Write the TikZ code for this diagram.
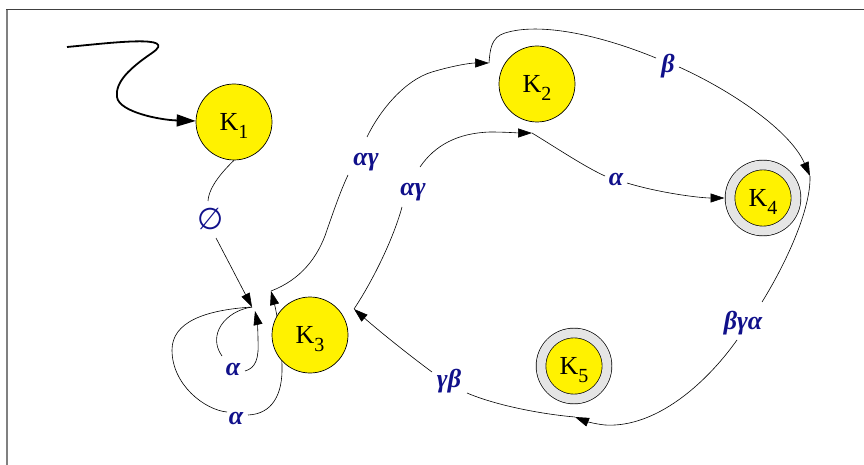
\documentclass[tikz,border=0pt]{standalone}
\usepackage{fontspec}
\setmainfont{Liberation Serif}
\newfontfamily\symfont{DejaVu Sans}
\usetikzlibrary{arrows.meta,backgrounds}
\definecolor{lblblue}{HTML}{10108A}
\newcommand\kname[1]{K\raisebox{-8pt}{\fontsize{20}{20}\selectfont #1}}
\begin{document}
\begin{tikzpicture}[x=1pt, y=1pt,
    state/.style={circle, draw, fill=yellow, line width=0.7pt, minimum size=76pt, inner sep=0pt, text depth=0pt, font=\fontsize{26}{26}\selectfont},
    final/.style={state, minimum size=66pt, double=gray!20, double distance=9pt, outer sep=5.5pt},
    edge/.style={-{Triangle[length=14pt, width=9pt]}, line width=0.6pt},
    init/.style={-{Triangle[length=19pt, width=12pt]}, line width=1.8pt},
    lbl/.style={text=lblblue, inner sep=0pt, font=\fontsize{26}{26}\selectfont\bfseries\itshape}]
    \useasboundingbox (0,0) rectangle (864,-465);
    \draw[gray, line width=1.5pt] (7,-465) -- (7,-9);
    \draw[black!75, line width=0.8pt] (6.25,-9) -- (864,-9);
    \node (k1) at (234,-122) [state] {\kname{1}};
    \node (k2) at (537,-84) [state] {\kname{2}};
    \node (k3) at (310,-335) [state] {\kname{3}};
    \node (k4) at (763,-198) [final] {\kname{4}};
    \node (k5) at (574,-366) [final] {\kname{5}};
    \coordinate (start) at (67,-47);
    \coordinate (p3a) at (252,-307);
    \coordinate (p3b) at (255,-311);
    \coordinate (p3c) at (271,-291);
    \coordinate (p3d) at (354,-309);
    \coordinate (p2a) at (489,-63);
    \coordinate (p2b) at (532,-133);
    \coordinate (p4a) at (810,-176);
    \coordinate (p5a) at (575,-417);
    \node (l1) at (211,-219) [lbl, font=\symfont\fontsize{30}{30}\selectfont] {∅};
    \node (l2) at (366,-162) [lbl] {αγ};
    \node (l3) at (413,-192) [lbl] {αγ};
    \node (l4) at (668,-66) [lbl] {β};
    \node (l5) at (616,-180) [lbl] {α};
    \node (l6) at (743,-323) [lbl] {βγα};
    \node (l7) at (449,-381) [lbl] {γβ};
    \node (l8) at (233,-369) [lbl] {α};
    \node (l9) at (236,-418) [lbl] {α};
    \begin{pgfonlayer}{background}
    \draw[init] (start) .. controls (110,-43) and (180,-34) .. (152,-53) .. controls (130,-68) and (115,-82) .. (117,-97) .. controls (119,-112) and (160,-120) .. (k1);
    \draw[edge] (k1.south) .. controls (224,-170) and (209,-186) .. (208,-201)
        (216,-238) .. controls (226,-257) and (240,-284) .. (p3a);
    \draw[edge] (p3a) .. controls (225,-311) and (207,-335) .. (222,-356)
        (245,-371) .. controls (256,-368) and (259,-358) .. (258,-340) .. controls (258,-330) and (257,-320) .. (p3b);
    \draw[edge] (p3a) .. controls (205,-310) and (172,-322) .. (172,-350) .. controls (172,-385) and (205,-410) .. (227,-412)
        (248,-415) .. controls (272,-414) and (283,-395) .. (282,-365) .. controls (281,-335) and (276,-310) .. (p3c);
    \draw[edge] (p3c) .. controls (300,-280) and (318,-258) .. (327,-230) .. controls (335,-207) and (341,-190) .. (348,-175)
        (367,-137) .. controls (380,-110) and (405,-80) .. (432,-72) .. controls (452,-66) and (470,-63) .. (p2a);
    \draw[edge] (p2a) .. controls (490,-50) and (491,-37) .. (505,-33) .. controls (540,-22) and (600,-35) .. (656,-58)
        (679,-67) .. controls (730,-90) and (790,-130) .. (p4a);
    \draw[edge] (p4a) .. controls (811,-210) and (785,-265) .. (762,-302)
        (737,-340) .. controls (705,-385) and (655,-428) .. (605,-425) .. controls (595,-424) and (585,-421) .. (p5a);
    \draw[edge] (p5a) .. controls (540,-414) and (495,-405) .. (467,-393)
        (432,-372) .. controls (405,-352) and (378,-330) .. (p3d);
    \draw[edge] (p3d) .. controls (372,-282) and (393,-240) .. (402,-207)
        (420,-167) .. controls (435,-145) and (458,-133) .. (490,-132) .. controls (505,-132) and (520,-133) .. (p2b);
    \draw[edge] (p2b) .. controls (555,-147) and (585,-167) .. (605,-176)
        (627,-183) .. controls (660,-193) and (700,-198) .. (k4);
    \end{pgfonlayer}
\end{tikzpicture}
\end{document}
